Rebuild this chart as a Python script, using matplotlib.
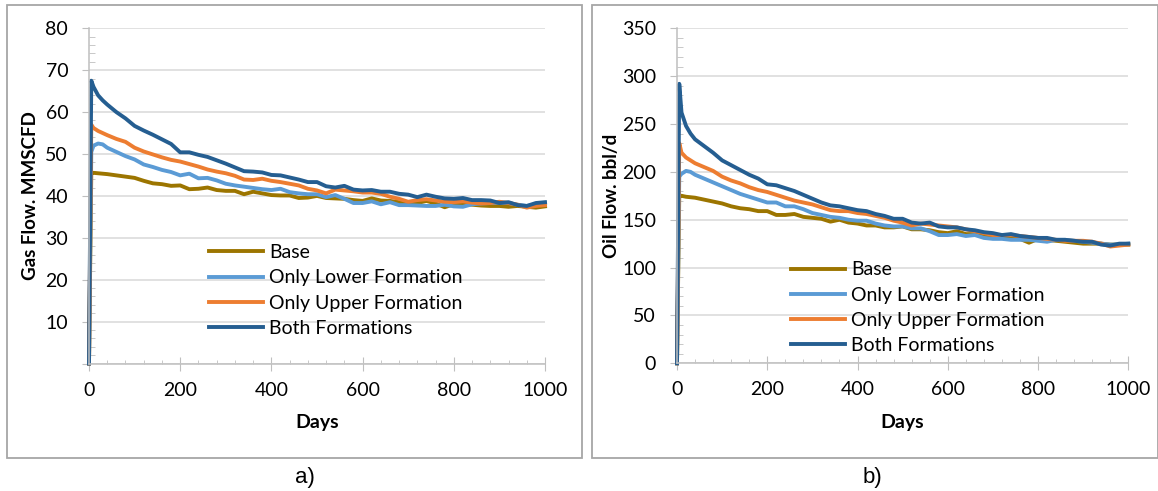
import matplotlib.pyplot as plt
from matplotlib.patches import Rectangle
from matplotlib.ticker import MultipleLocator, FuncFormatter

# sample days (same for every series)
days = [0, 5, 10, 20, 30, 40] + list(range(60, 1001, 20))

labels = ['Base', 'Only Lower Formation', 'Only Upper Formation', 'Both Formations']
colors = ['#9C7500', '#5B9BD5', '#ED7D31', '#255E91']

# gas flow, MMSCFD
gas_base = [0, 45.5, 45.5, 45.4, 45.3, 45.2, 44.9, 44.6, 44.3, 43.6, 43.0, 42.8, 42.4, 42.5, 41.6, 41.7,
            42.0, 41.4, 41.2, 41.2, 40.4, 41.0, 40.6, 40.2, 40.1, 40.1, 39.5, 39.6, 40.0, 39.5, 39.4, 39.3,
            39.0, 38.8, 39.4, 38.9, 38.8, 38.5, 38.4, 38.3, 38.8, 38.2, 37.3, 38.0, 38.0, 37.9, 37.7, 37.6,
            37.6, 37.4, 37.6, 37.4, 37.2, 37.5]
gas_lower = [0, 50.5, 52.0, 52.5, 52.3, 51.5, 50.5, 49.5, 48.7, 47.5, 46.9, 46.2, 45.7, 44.9, 45.3, 44.2,
             44.3, 43.7, 42.9, 42.5, 42.2, 41.9, 41.6, 41.4, 41.7, 40.9, 40.6, 40.4, 40.4, 39.7, 40.2, 39.3,
             38.3, 38.3, 38.7, 38.0, 38.5, 37.8, 37.8, 37.7, 37.6, 37.6, 37.9, 37.5, 37.4, 38.0, 38.2, 38.3,
             38.4, 38.3, 37.9, 37.6, 37.9, 38.2]
gas_upper = [0, 57.0, 56.2, 55.5, 55.0, 54.5, 53.6, 52.9, 51.5, 50.6, 49.9, 49.2, 48.6, 48.2, 47.6, 47.0,
             46.3, 45.8, 45.4, 44.8, 43.9, 43.8, 44.1, 43.6, 43.3, 42.9, 42.5, 41.7, 41.3, 40.6, 41.5, 41.3,
             41.1, 40.8, 40.8, 40.5, 39.8, 39.3, 38.6, 39.0, 39.2, 38.9, 38.6, 38.5, 38.7, 38.4, 38.2, 38.3,
             38.6, 38.3, 37.9, 37.2, 37.6, 37.8]
gas_both = [0, 67.5, 66.0, 64.0, 62.8, 61.8, 60.0, 58.5, 56.7, 55.6, 54.6, 53.5, 52.4, 50.4, 50.4, 49.8,
            49.3, 48.5, 47.7, 46.8, 45.9, 45.8, 45.6, 45.0, 44.9, 44.4, 43.9, 43.3, 43.3, 42.3, 42.0, 42.4,
            41.5, 41.3, 41.4, 41.0, 41.0, 40.5, 40.3, 39.7, 40.3, 39.8, 39.4, 39.3, 39.5, 39.0, 39.0, 38.9,
            38.3, 38.5, 37.8, 37.6, 38.3, 38.5]

# oil flow, bbl/d
oil_base = [0, 175, 175, 174, 173.5, 173, 171, 169, 167, 164, 162, 161, 159, 159, 155, 155, 156, 153, 152,
            151, 148, 150, 147, 146, 144, 144, 142, 142, 143, 140, 140, 139, 137, 136, 138, 135, 135, 134,
            133, 132, 132, 130, 126, 130, 129, 128, 127, 126, 125, 125, 125, 124, 124, 124]
oil_lower = [0, 195, 198, 201, 200, 197, 193, 189, 185, 181, 177, 174, 171, 168, 168, 164, 164, 161, 157,
             155, 153, 152, 150, 149, 149, 146, 144, 143, 143, 141, 141, 138, 134, 134, 135, 133, 134, 131,
             130, 130, 129, 129, 129, 128, 127, 129, 129, 128, 127, 126, 125, 124, 124, 125]
oil_upper = [0, 230, 220, 215, 212, 209, 205, 201, 195, 191, 188, 184, 181, 179, 176, 173, 170, 168, 166,
             163, 160, 159, 159, 157, 156, 154, 152, 149, 147, 144, 146, 145, 144, 143, 142, 140, 138, 136,
             134, 134, 134, 133, 132, 131, 130, 129, 128, 128, 128, 127, 125, 122, 123, 124]
oil_both = [0, 292, 262, 248, 240, 234, 227, 220, 212, 207, 202, 197, 193, 187, 186, 183, 180, 176, 172,
            168, 165, 164, 162, 160, 159, 156, 154, 151, 151, 147, 146, 147, 143, 142, 142, 140, 139, 137,
            136, 134, 135, 133, 132, 131, 131, 129, 129, 128, 127, 127, 124, 123, 125, 125]

W, H = 1158, 491
fig = plt.figure(figsize=(W / 100, H / 100), dpi=100)
plt.rcParams['font.family'] = ['Lato', 'DejaVu Sans']

grid_c = '#D9D9D9'
axis_c = '#BFBFBF'


def px(x0, y0, x1, y1):
    return [x0 / W, 1 - y1 / H, (x1 - x0) / W, (y1 - y0) / H]


def panel(rect, series, ymax, ystep, yminor, ylabel, hide_zero, leg_x, leg_y):
    ax = fig.add_axes(rect)
    for vals, lab, c in zip(series, labels, colors):
        ax.plot(days, vals, color=c, lw=2.8, label=lab, clip_on=False, solid_joinstyle='round')
    ax.set_xlim(0, 1000)
    ax.set_ylim(0, ymax)
    ax.xaxis.set_major_locator(MultipleLocator(200))
    ax.xaxis.set_minor_locator(MultipleLocator(40))
    ax.yaxis.set_major_locator(MultipleLocator(ystep))
    ax.yaxis.set_minor_locator(MultipleLocator(yminor))
    if hide_zero:
        ax.yaxis.set_major_formatter(FuncFormatter(lambda v, p: '' if v == 0 else f'{v:g}'))
    ax.grid(axis='y', color=grid_c, lw=1.1)
    ax.set_axisbelow(True)
    for s in ['top', 'right']:
        ax.spines[s].set_visible(False)
    for s in ['left', 'bottom']:
        ax.spines[s].set_color(axis_c)
        ax.spines[s].set_linewidth(1.1)
    ax.tick_params(axis='x', which='major', direction='inout', length=10, color=axis_c,
                   labelsize=14, pad=8)
    ax.tick_params(axis='x', which='minor', direction='in', length=3, color=axis_c)
    ax.tick_params(axis='y', which='major', direction='out', length=5, color=axis_c,
                   labelsize=14, pad=10)
    ax.tick_params(axis='y', which='minor', direction='in', length=4, color=axis_c)
    ax.set_xlabel('Days', fontsize=14, fontweight='bold', labelpad=11)
    ax.set_ylabel(ylabel, fontsize=13.5, fontweight='bold')
    ax.legend(loc='center left', bbox_to_anchor=(leg_x, leg_y), frameon=False, fontsize=14,
              handlelength=2.8, handletextpad=0.3, labelspacing=0.42, borderpad=0, borderaxespad=0)
    return ax


ax1 = panel(px(89, 28.3, 545, 363.5), [gas_base, gas_lower, gas_upper, gas_both], 80, 10, 2,
            'Gas Flow. MMSCFD', True, 0.263, 0.218)
ax2 = panel(px(677, 28.3, 1128.3, 363.3), [oil_base, oil_lower, oil_upper, oil_both], 350, 50, 10,
            'Oil Flow. bbl/d', False, 0.252, 0.166)
ax1.yaxis.set_label_coords(-0.11, 0.5)
ax2.yaxis.set_label_coords(-0.127, 0.5)

# panel frames
for x0, x1 in [(7.5, 582), (591.5, 1157.5)]:
    fig.patches.append(Rectangle((x0 / W, 1 - 457.5 / H), (x1 - x0) / W, (457.5 - 4.5) / H,
                                 transform=fig.transFigure, fill=False, ec='#A6A6A6', lw=1.3))

fig.text(305 / W, 1 - 477 / H, 'a)', ha='center', va='center', fontsize=16, family='Liberation Sans')
fig.text(872 / W, 1 - 477 / H, 'b)', ha='center', va='center', fontsize=16, family='Liberation Sans')

fig.savefig('out.png', dpi=100)
